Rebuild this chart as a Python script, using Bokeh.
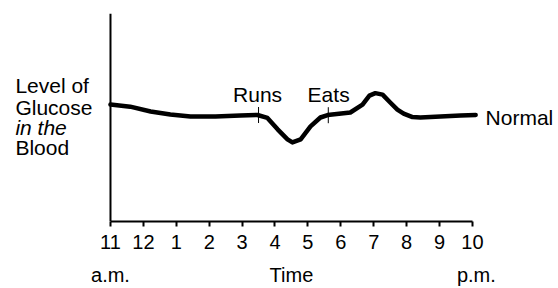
from bokeh.plotting import figure
from bokeh.models import Range1d, FixedTicker, LinearAxis, Span, ColumnDataSource
from bokeh.core.properties import value
from bokeh.embed import file_html
from bokeh.resources import INLINE

# --- data (hours after 11 a.m., glucose level in arbitrary units) ---
hours = [0, 0.6, 1.22, 1.82, 2.43, 3.19, 3.95, 4.47, 4.77, 5.08, 5.38, 5.53,
         5.78, 6.08, 6.38, 6.6, 7.29, 7.66, 7.87, 8.05, 8.27, 8.51, 8.72,
         8.91, 9.18, 9.42, 10.03, 10.64, 11.1]
glucose = [56.2, 55.2, 52.9, 51.4, 50.5, 50.5, 51.0, 51.2, 49.8, 44.3, 39.5, 38.0,
           39.5, 45.7, 50.0, 51.2, 52.4, 56.2, 60.5, 61.7, 61.0, 57.1, 53.8,
           51.9, 50.2, 50.0, 50.5, 51.0, 51.2]
tick_positions = list(range(12))
tick_labels = ["11", "12", "1", "2", "3", "4", "5", "6", "7", "8", "9", "10"]
period_positions = [0.0, 5.5, 11.12]
period_labels = ["a.m.", "Time", "p.m."]
event_names = ["Runs", "Eats"]
event_hours = [4.5, 6.62]
event_levels = [51.2, 51.1]
event_label_x = [4.47, 6.63]
event_label_y = [60.9, 60.9]
ylabel_lines = ["Level of", "Glucose", "in the", "Blood"]
ylabel_styles = ["normal", "normal", "italic", "normal"]
ylabel_y = [65.2, 54.8, 45.2, 35.7]

FONT = "Liberation Sans"

p = figure(width=558, height=288, output_backend="svg", toolbar_location=None,
           x_range=Range1d(-3.343, 13.617), y_range=Range1d(0, 100),
           y_axis_location=None,
           min_border_left=0, min_border_right=0, min_border_top=13,
           min_border_bottom=65)
p.outline_line_color = None
p.xgrid.visible = False
p.ygrid.visible = False
p.background_fill_color = "white"
p.border_fill_color = "white"

# x axis (hours)
xa = p.xaxis[0]
xa.ticker = FixedTicker(ticks=tick_positions)
xa.major_label_overrides = {t: l for t, l in zip(tick_positions, tick_labels)}
xa.bounds = (0, 11)
xa.axis_line_width = 2
xa.axis_line_color = "black"
xa.major_tick_in = 0
xa.major_tick_out = 5
xa.major_tick_line_width = 2
xa.minor_tick_line_color = None
xa.major_label_standoff = 8
xa.major_label_text_font = FONT
xa.major_label_text_font_size = "20px"
xa.major_label_text_color = "black"

# second axis: a.m. / Time / p.m.
xa2 = LinearAxis(ticker=FixedTicker(ticks=period_positions),
                 major_label_overrides={t: l for t, l in zip(period_positions, period_labels)},
                 axis_line_color=None, major_tick_line_color=None,
                 minor_tick_line_color=None, major_label_standoff=6,
                 major_label_text_font=FONT, major_label_text_font_size="20px",
                 major_label_text_color="black")
p.add_layout(xa2, "below")

# vertical axis line at 11 a.m.
p.add_layout(Span(location=0, dimension="height", line_color="black", line_width=2))

# curve
p.line(hours, glucose, line_width=4.5, line_color="black",
       line_join="round", line_cap="round")

# event ticks
p.scatter(event_hours, event_levels, marker="dash", angle=1.5708, size=16,
          line_color="black", line_width=1)

src = ColumnDataSource(dict(x=event_label_x, y=event_label_y, t=event_names))
p.text(x="x", y="y", text="t", source=src, text_font=value(FONT),
       text_font_size="21px", text_align="center", text_baseline="alphabetic",
       text_color="black")

p.text(x=[11.4], y=[50.0], text=["Normal"], text_font=value(FONT),
       text_font_size="21px", text_align="left", text_baseline="alphabetic",
       text_color="black")

# vertical-axis title, one line per text
ysrc = ColumnDataSource(dict(x=[-2.89] * 4, y=ylabel_y, t=ylabel_lines, s=ylabel_styles))
p.text(x="x", y="y", text="t", text_font_style="s", source=ysrc,
       text_font=value(FONT), text_font_size="21px", text_align="left",
       text_baseline="alphabetic", text_color="black")

open("out.html", "w").write(file_html(p, INLINE))
